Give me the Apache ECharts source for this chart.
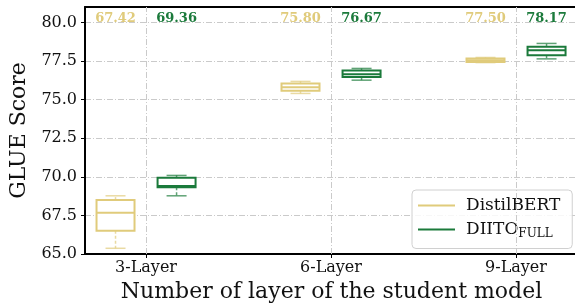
<!DOCTYPE html>
<html>
<head>
    <meta charset="UTF-8">
    <title>GLUE Score by layer</title>
    <script src="https://cdn.jsdelivr.net/npm/echarts@6/dist/echarts.min.js"></script>
</head>
<body style="margin:0">
<div id="main" style="width: 575px;height:304px;"></div>
<script type="text/javascript">
    // 类别
    const categories = ['3-Layer', '6-Layer', '9-Layer'];
    // 箱线数据: [low, q1, median, q3, high]
    const distilBox = [
        [65.37, 66.51, 67.67, 68.49, 68.77],
        [75.40, 75.57, 75.80, 76.05, 76.18],
        [77.40, 77.43, 77.55, 77.67, 77.73]
    ];
    const diitoBox = [
        [68.77, 69.33, 69.40, 69.94, 70.09],
        [76.26, 76.46, 76.65, 76.89, 77.02],
        [77.64, 77.88, 78.20, 78.42, 78.64]
    ];
    // 顶部标注的均值
    const distilMean = [67.42, 75.80, 77.50];
    const diitoMean = [69.36, 76.67, 78.17];
    const yTicks = [65, 67.5, 70, 72.5, 75, 77.5, 80];

    const yellow = '#e0cb7b';
    const green = '#1b7a3b';
    const serif = 'DejaVu Serif';
    const dashDot = [6, 2, 1, 2];

    function boxData(box, mean, shift) {
        return box.map((b, i) => [i + shift].concat(b, [mean[i]]));
    }

    function makeRender(color) {
        return function (params, api) {
            let x = api.value(0);
            let lo = api.coord([x, api.value(1)]);
            let q1 = api.coord([x, api.value(2)]);
            let md = api.coord([x, api.value(3)]);
            let q3 = api.coord([x, api.value(4)]);
            let hi = api.coord([x, api.value(5)]);
            let cx = lo[0];
            let half = 19, cap = 10;
            let cs = params.coordSys;
            let whisk = {stroke: color, lineWidth: 1.5, opacity: 0.7, lineDash: [3, 2]};
            let capStyle = {stroke: color, lineWidth: 1.5, opacity: 0.7};
            return {
                type: 'group',
                children: [
                    {type: 'line', shape: {x1: cx, y1: q3[1], x2: cx, y2: hi[1]}, style: whisk},
                    {type: 'line', shape: {x1: cx, y1: q1[1], x2: cx, y2: lo[1]}, style: whisk},
                    {type: 'line', shape: {x1: cx - cap, y1: hi[1], x2: cx + cap, y2: hi[1]}, style: capStyle},
                    {type: 'line', shape: {x1: cx - cap, y1: lo[1], x2: cx + cap, y2: lo[1]}, style: capStyle},
                    {
                        type: 'rect',
                        shape: {x: cx - half, y: q3[1], width: half * 2, height: q1[1] - q3[1]},
                        style: {fill: '#fff', stroke: color, lineWidth: 2}
                    },
                    {type: 'line', shape: {x1: cx - half, y1: md[1], x2: cx + half, y2: md[1]}, style: {stroke: color, lineWidth: 2}},
                    {
                        type: 'text',
                        style: {
                            text: api.value(6).toFixed(2),
                            x: cx, y: cs.y + 12,
                            fill: color,
                            font: 'bold 13px "DejaVu Serif"',
                            align: 'center', verticalAlign: 'middle'
                        }
                    }
                ]
            };
        };
    }

    var myChart = echarts.init(document.getElementById('main'));

    let option = {
        animation: false,
        grid: {
            left: 85, top: 7, width: 493, height: 247,
            outerBoundsMode: 'none'
        },
        legend: {
            left: 412, top: 190,
            orient: 'vertical',
            padding: [7, 12, 9, 6],
            itemGap: 7,
            itemWidth: 37, itemHeight: 2,
            backgroundColor: 'rgba(255,255,255,0.85)',
            borderColor: '#d0d0d0', borderWidth: 1, borderRadius: 4,
            data: [{name: 'DistilBERT', icon: 'rect'}, {name: 'DIITO', icon: 'rect'}],
            formatter: function (name) {
                return name === 'DIITO' ? '{a|DIITO}{b|FULL}' : '{a|' + name + '}';
            },
            textStyle: {
                fontFamily: serif, fontSize: 17, color: '#111',
                rich: {
                    a: {fontFamily: serif, fontSize: 17, color: '#111', padding: [0, 0, 0, 6]},
                    b: {fontFamily: serif, fontSize: 12, color: '#111', padding: [8, 0, 0, 0]}
                }
            }
        },
        xAxis: [
            {
                type: 'value',
                min: -0.33, max: 2.335,
                name: 'Number of layer of the student model',
                nameLocation: 'middle',
                nameGap: 27,
                nameTextStyle: {fontFamily: serif, fontSize: 22, color: '#111'},
                axisLine: {show: true, onZero: false, lineStyle: {color: '#000', width: 2}},
                axisTick: {show: true, length: 4, customValues: [0, 1, 2], lineStyle: {color: '#000'}},
                axisLabel: {
                    customValues: [0, 1, 2],
                    formatter: v => categories[Math.round(v)],
                    fontFamily: serif, fontSize: 16, color: '#111', margin: 6
                },
                splitLine: {show: false}
            },
            {
                // 顶部边框
                type: 'value',
                position: 'top',
                min: -0.33, max: 2.335,
                axisLine: {show: true, onZero: false, lineStyle: {color: '#000', width: 2}},
                axisTick: {show: false},
                axisLabel: {show: false},
                splitLine: {show: false}
            }
        ],
        yAxis: {
            type: 'value',
            min: 65, max: 81,
            name: 'GLUE Score',
            nameLocation: 'middle',
            nameGap: 49,
            nameTextStyle: {fontFamily: serif, fontSize: 22, color: '#111'},
            axisLine: {show: true, onZero: false, lineStyle: {color: '#000', width: 2}},
            axisTick: {show: true, length: 4, customValues: yTicks, lineStyle: {color: '#000'}},
            axisLabel: {
                customValues: yTicks,
                formatter: v => v.toFixed(1),
                fontFamily: serif, fontSize: 16, color: '#111', margin: 8
            },
            splitLine: {show: true, lineStyle: {color: '#cacaca', type: dashDot}}
        },
        series: [
            {
                name: 'DistilBERT',
                type: 'custom',
                itemStyle: {color: yellow},
                renderItem: makeRender(yellow),
                encode: {x: 0, y: [1, 2, 3, 4, 5]},
                data: boxData(distilBox, distilMean, -0.165),
                // 类别处的竖向网格线
                markLine: {
                    silent: true,
                    symbol: 'none',
                    label: {show: false},
                    lineStyle: {color: '#cacaca', type: dashDot, width: 1},
                    data: categories.map((c, i) => ({xAxis: i}))
                }
            },
            {
                name: 'DIITO',
                type: 'custom',
                itemStyle: {color: green},
                renderItem: makeRender(green),
                encode: {x: 0, y: [1, 2, 3, 4, 5]},
                data: boxData(diitoBox, diitoMean, 0.165)
            }
        ]
    };

    myChart.setOption(option);
</script>
</body>
</html>
